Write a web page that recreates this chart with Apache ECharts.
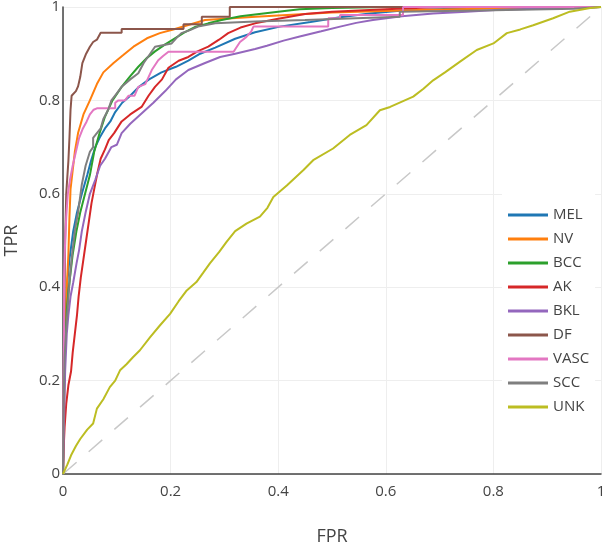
<!DOCTYPE html>
<html>
<head>
<meta charset="utf-8">
<script src="https://cdn.jsdelivr.net/npm/echarts@6/dist/echarts.min.js"></script>
<style>
  html, body { margin: 0; padding: 0; background: #fff; }
  #chart { width: 604px; height: 542px; }
</style>
</head>
<body>
<div id="chart"></div>
<script>
// class names in legend order
const classes = ['MEL', 'NV', 'BCC', 'AK', 'BKL', 'DF', 'VASC', 'SCC', 'UNK'];
const colors = ['#1f77b4', '#ff7f0e', '#2ca02c', '#d62728', '#9467bd', '#8c564b', '#e377c2', '#7f7f7f', '#bcbd22'];
const xTicks = [0, 0.2, 0.4, 0.6, 0.8, 1];

// ROC points as [fpr, tpr]
const mel = [[0,0],[0.001,0.12],[0.003,0.25],[0.005,0.32],[0.008,0.41],[0.012,0.46],[0.019,0.52],[0.026,0.56],[0.035,0.6],[0.045,0.64],[0.052,0.67],[0.06,0.7],[0.068,0.72],[0.078,0.74],[0.088,0.755],[0.097,0.775],[0.11,0.795],[0.125,0.81],[0.14,0.828],[0.16,0.845],[0.183,0.86],[0.21,0.872],[0.233,0.885],[0.255,0.9],[0.283,0.913],[0.32,0.932],[0.357,0.946],[0.403,0.958],[0.46,0.968],[0.515,0.978],[0.57,0.986],[0.626,0.992],[0.72,0.996],[0.85,0.999],[1,1]];
const nv = [[0,0],[0.002,0.2],[0.004,0.3],[0.007,0.4],[0.01,0.47],[0.012,0.55],[0.014,0.61],[0.018,0.65],[0.022,0.69],[0.028,0.73],[0.038,0.77],[0.05,0.8],[0.063,0.835],[0.075,0.86],[0.094,0.88],[0.112,0.897],[0.131,0.915],[0.156,0.933],[0.18,0.944],[0.205,0.952],[0.264,0.972],[0.358,0.979],[0.5,0.988],[0.68,0.994],[0.85,0.998],[1,1]];
const bcc = [[0,0],[0.002,0.15],[0.004,0.28],[0.007,0.35],[0.01,0.39],[0.013,0.42],[0.018,0.47],[0.025,0.52],[0.032,0.56],[0.041,0.6],[0.05,0.64],[0.058,0.69],[0.068,0.73],[0.078,0.765],[0.092,0.8],[0.109,0.829],[0.125,0.852],[0.14,0.872],[0.155,0.89],[0.171,0.905],[0.19,0.92],[0.208,0.933],[0.225,0.945],[0.245,0.957],[0.27,0.965],[0.295,0.972],[0.33,0.98],[0.357,0.984],[0.4,0.99],[0.44,0.995],[0.5,0.998],[0.6,1],[1,1]];
const ak = [[0,0],[0.001,0.05],[0.003,0.1],[0.006,0.15],[0.01,0.19],[0.015,0.22],[0.018,0.26],[0.022,0.3],[0.026,0.34],[0.029,0.38],[0.033,0.42],[0.038,0.46],[0.043,0.5],[0.048,0.54],[0.053,0.58],[0.058,0.61],[0.064,0.645],[0.07,0.675],[0.078,0.695],[0.085,0.715],[0.095,0.73],[0.109,0.755],[0.125,0.77],[0.146,0.786],[0.159,0.81],[0.171,0.829],[0.184,0.845],[0.196,0.87],[0.215,0.885],[0.233,0.893],[0.25,0.905],[0.27,0.915],[0.29,0.93],[0.307,0.944],[0.33,0.956],[0.357,0.965],[0.4,0.975],[0.45,0.985],[0.5,0.99],[0.6,0.995],[0.7,1],[1,1]];
const bkl = [[0,0],[0.002,0.12],[0.004,0.22],[0.007,0.3],[0.01,0.34],[0.014,0.38],[0.019,0.41],[0.025,0.45],[0.03,0.48],[0.035,0.52],[0.042,0.56],[0.05,0.6],[0.06,0.63],[0.069,0.66],[0.078,0.675],[0.09,0.7],[0.1,0.705],[0.109,0.73],[0.125,0.75],[0.146,0.772],[0.168,0.795],[0.19,0.82],[0.21,0.845],[0.233,0.865],[0.264,0.88],[0.292,0.893],[0.32,0.9],[0.357,0.91],[0.379,0.917],[0.41,0.928],[0.44,0.937],[0.48,0.948],[0.515,0.958],[0.545,0.966],[0.576,0.972],[0.63,0.98],[0.688,0.986],[0.75,0.99],[0.812,0.994],[0.88,0.996],[0.937,0.998],[1,1]];
const df = [[0,0],[0.002,0.3],[0.004,0.5],[0.006,0.6],[0.01,0.67],[0.012,0.72],[0.014,0.78],[0.016,0.81],[0.024,0.82],[0.028,0.83],[0.032,0.85],[0.036,0.88],[0.043,0.9],[0.05,0.915],[0.056,0.925],[0.063,0.93],[0.07,0.945],[0.109,0.945],[0.109,0.953],[0.224,0.953],[0.224,0.963],[0.258,0.963],[0.258,0.979],[0.31,0.979],[0.31,1],[1,1]];
const vasc = [[0,0],[0.001,0.2],[0.002,0.3],[0.002,0.42],[0.004,0.5],[0.006,0.55],[0.009,0.6],[0.013,0.63],[0.018,0.66],[0.024,0.69],[0.03,0.72],[0.037,0.74],[0.044,0.755],[0.05,0.77],[0.057,0.78],[0.063,0.783],[0.097,0.783],[0.097,0.795],[0.103,0.8],[0.115,0.8],[0.122,0.81],[0.133,0.81],[0.14,0.829],[0.153,0.835],[0.165,0.865],[0.177,0.886],[0.186,0.895],[0.196,0.904],[0.317,0.904],[0.321,0.911],[0.329,0.925],[0.341,0.936],[0.35,0.948],[0.354,0.958],[0.493,0.958],[0.493,0.976],[0.515,0.976],[0.515,0.983],[0.632,0.983],[0.632,1],[1,1]];
const scc = [[0,0],[0.001,0.15],[0.003,0.25],[0.006,0.31],[0.009,0.36],[0.012,0.41],[0.016,0.46],[0.022,0.52],[0.028,0.56],[0.035,0.62],[0.042,0.66],[0.05,0.69],[0.056,0.7],[0.056,0.72],[0.07,0.74],[0.075,0.76],[0.084,0.78],[0.09,0.8],[0.1,0.815],[0.109,0.829],[0.125,0.845],[0.14,0.858],[0.15,0.88],[0.162,0.9],[0.171,0.915],[0.202,0.922],[0.212,0.935],[0.22,0.944],[0.235,0.95],[0.251,0.958],[0.283,0.965],[0.357,0.969],[0.45,0.972],[0.626,0.979],[0.626,0.99],[0.8,0.993],[0.95,0.996],[1,1]];
const unk = [[0,0],[0.008,0.02],[0.015,0.04],[0.024,0.06],[0.032,0.075],[0.045,0.095],[0.056,0.108],[0.063,0.14],[0.075,0.16],[0.087,0.186],[0.097,0.2],[0.106,0.222],[0.118,0.235],[0.13,0.25],[0.143,0.265],[0.162,0.293],[0.18,0.318],[0.199,0.343],[0.215,0.37],[0.23,0.393],[0.248,0.411],[0.26,0.43],[0.273,0.451],[0.29,0.475],[0.304,0.497],[0.32,0.52],[0.341,0.536],[0.366,0.551],[0.38,0.57],[0.391,0.593],[0.416,0.618],[0.447,0.651],[0.465,0.672],[0.502,0.697],[0.533,0.726],[0.564,0.747],[0.589,0.779],[0.608,0.786],[0.651,0.808],[0.67,0.825],[0.688,0.843],[0.71,0.86],[0.738,0.883],[0.769,0.908],[0.8,0.922],[0.825,0.944],[0.85,0.952],[0.874,0.961],[0.911,0.976],[0.942,0.99],[0.98,0.998],[1,1]];
const diagonal = [[0,0],[1,1]];

const curves = [mel, nv, bcc, ak, bkl, df, vasc, scc, unk];

const chart = echarts.init(document.getElementById('chart'));
const font = '"Open Sans", "Noto Sans", sans-serif';

const series = [{
  name: 'chance',
  type: 'line',
  data: diagonal,
  showSymbol: false,
  silent: true,
  lineStyle: { color: '#c8c8c8', width: 1.5, type: [18, 16] },
  z: 1
}];
classes.forEach((c, i) => {
  series.push({
    name: c,
    type: 'line',
    data: curves[i],
    showSymbol: false,
    lineStyle: { color: colors[i], width: 2 },
    itemStyle: { color: colors[i] },
    z: 2
  });
});

chart.setOption({
  animation: false,
  textStyle: { fontFamily: font },
  grid: { left: 63, right: 3, top: 7, bottom: 68, outerBoundsMode: 'none', containLabel: false },
  legend: {
    data: classes,
    orient: 'vertical',
    left: 502,
    top: 193,
    padding: [10, 6, 10, 6],
    backgroundColor: '#fff',
    itemGap: 0,
    itemWidth: 40,
    itemHeight: 3,
    icon: 'rect',
    textStyle: { color: '#444', fontSize: 15, lineHeight: 24, fontFamily: font }
  },
  xAxis: {
    type: 'value',
    min: 0,
    max: 1,
    interval: 0.2,
    name: 'FPR',
    nameLocation: 'middle',
    nameGap: 54,
    nameTextStyle: { color: '#444', fontSize: 18 },
    axisLine: { show: true, lineStyle: { color: '#444', width: 1.5 } },
    axisTick: { show: false },
    axisLabel: { color: '#444', fontSize: 15, margin: 10, showMaxLabel: true, showMinLabel: true },
    splitLine: { show: true, lineStyle: { color: '#eee', width: 1 } }
  },
  yAxis: {
    type: 'value',
    min: 0,
    max: 1,
    interval: 0.2,
    name: 'TPR',
    nameLocation: 'middle',
    nameGap: 42,
    nameTextStyle: { color: '#444', fontSize: 18 },
    axisLine: { show: true, lineStyle: { color: '#444', width: 1.5 } },
    axisTick: { show: false },
    axisLabel: { color: '#444', fontSize: 15, margin: 3 },
    splitLine: { show: true, lineStyle: { color: '#eee', width: 1 } }
  },
  series: series
});
</script>
</body>
</html>
